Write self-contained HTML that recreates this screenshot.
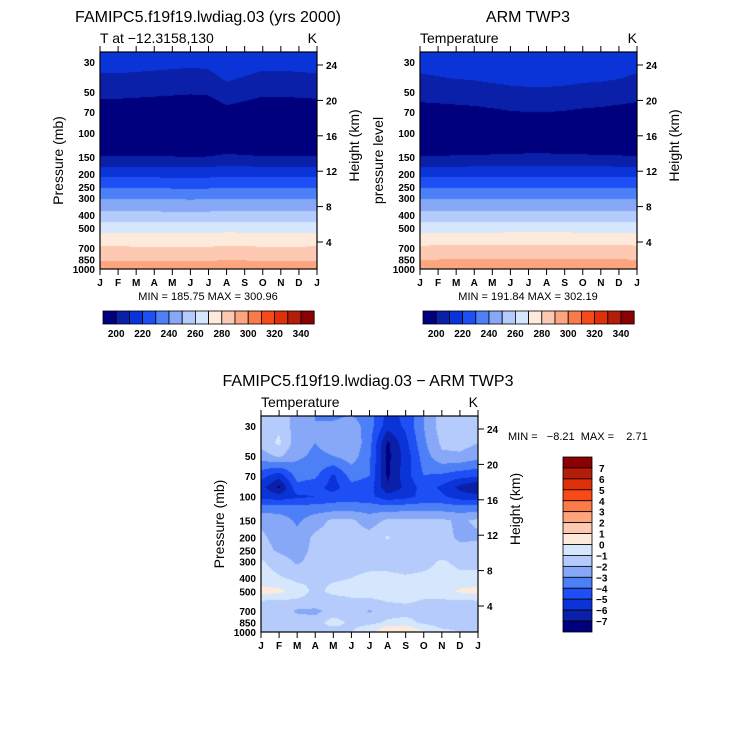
<!DOCTYPE html>
<html><head><meta charset="utf-8">
<style>
body{margin:0;background:#fff;width:733px;height:740px;overflow:hidden;position:relative;font-family:"Liberation Sans",sans-serif}
canvas{position:absolute}
svg{position:absolute;left:0;top:0}
text{font-family:"Liberation Sans",sans-serif;fill:#000}
.tk{font-size:10px;font-weight:bold}
</style></head>
<body>
<canvas id="c1" width="217" height="217" style="left:100px;top:52px"></canvas>
<canvas id="c2" width="217" height="217" style="left:420px;top:52px"></canvas>
<canvas id="c3" width="217" height="216" style="left:261px;top:416px"></canvas>
<svg id="s" width="733" height="740"></svg>
<script>
// ---- data ----
const months = ["J","F","M","A","M","J","J","A","S","O","N","D","J"];
const pTicks = [30,50,70,100,150,200,250,300,400,500,700,850,1000];
const hTicks = [24,20,16,12,8,4];
const levels = [25,30,40,50,70,85,100,120,150,200,250,300,400,500,600,700,850,925,1000];
const profModel = [216,214,208,203,194,190,189,192,201,217,229,239,253,266,275,281,289,293,295];
const offModel  = [0,0,-0.5,-1,-1.5,-2,-1.5,3,1,-1,-1,-0.5,0];
const profObs   = [215,213,210,205,197,192,190,193,201,217,229,239,253,266,275,282,290,294,296];
const offObs    = [-1,-0.5,0,0.5,1.5,2.5,3,3,2.5,1.5,1,0,-1];
const diffGrid = [
[-1.5,-1.2,-2.5,-3,-3.2,-3,-3.5,-5.3,-4.8,-3,-1.5,-1.5,-1.5],
[-1.5,-1.2,-2.5,-3,-2.8,-2.5,-3.5,-5.6,-4.8,-3,-1.5,-1.5,-1.8],
[-1.6,-0.8,-2.6,-3,-2.6,-2.2,-3.6,-7.2,-5.3,-3.2,-1.8,-1.6,-2],
[-2.5,-1.8,-2.8,-3.2,-3.0,-2.5,-3.8,-7.3,-5.6,-3.5,-2.2,-2.2,-2.6],
[-4.6,-5.6,-3.6,-3.8,-5.2,-3.6,-4,-7.2,-5.4,-4,-4.2,-4.6,-4.8],
[-5.6,-7.2,-4.3,-4.6,-5.4,-4.3,-4.5,-6.8,-5.8,-4.5,-5.2,-6.3,-7.1],
[-5.3,-5.6,-5.2,-5,-4.6,-4.5,-4.7,-5.6,-5.3,-4.7,-4.8,-5.5,-5.6],
[-3.5,-3.6,-3.6,-3.6,-3.5,-3.5,-3.5,-3.6,-3.5,-3.5,-3.5,-3.6,-3.6],
[-2.2,-2.4,-3.2,-2.4,-1.8,-1.8,-2.5,-1.8,-1.8,-1.8,-1.8,-2.2,-1.8],
[-1.8,-2.4,-2.6,-1.8,-1.6,-1.6,-1.6,-0.9,-1.6,-1.6,-1.6,-2.2,-2.2],
[-1.5,-2.2,-2.6,-1.6,-1.5,-1.5,-1.5,-1.5,-1.5,-1.5,-1.5,-1.6,-1.5],
[-0.9,-1.4,-2.2,-1.5,-1.3,-1.3,-1.3,-1.3,-1.4,-1.3,-0.9,-1.2,-1.2],
[-0.6,-0.9,-1.2,-1.1,-1.1,-1.0,-0.8,-0.8,-0.9,-0.8,-0.7,-0.8,-0.8],
[0.4,0.3,-0.6,-1.2,-0.8,-0.7,-0.7,-0.6,-0.6,-0.7,-0.4,0.2,0.4],
[-1.2,-1.3,-1.2,-1.3,-1.4,-1.2,-1.2,-1.0,-0.9,-1.1,-1.2,-1.3,-1.2],
[-1.6,-1.2,-2.2,-2.3,-1.6,-1.5,-2.1,-1.5,-1.4,-1.5,-1.8,-1.8,-1.6],
[-1.4,-1.2,-1.3,-1.5,-0.5,-1.3,-1.4,-0.8,-0.6,-1.2,-1.4,-1.4,-1.4],
[-1.3,-1.2,-1.2,-1.2,-1.1,-1.2,-0.6,0.3,0.4,-0.5,-1.1,-1.2,-1.3],
[-1.2,-1.2,-1.2,-1.1,-1.1,-1.0,-0.3,0.6,0.8,0.2,-0.7,-1.0,-1.1]];
const tempLabels = [200,220,240,260,280,300,320,340];
const diffLabels = [7,6,5,4,3,2,1,0,-1,-2,-3,-4,-5,-6,-7];
const palette = ["#00007f","#0a20a8","#0a34d8","#1e4ff5","#4d7ff6","#86a8f7","#b4cbfb","#d6e6fd","#feeadb","#fdc9b3","#fda57f","#fa7a48","#f84a18","#e0300a","#b31e0a","#8b0000"];

// ---- helpers ----
const SVGNS="http://www.w3.org/2000/svg", S=document.getElementById('s');
function el(tag,attrs,txt){const e=document.createElementNS(SVGNS,tag);for(const k in attrs)e.setAttribute(k,attrs[k]);if(txt!==undefined)e.textContent=txt;S.appendChild(e);return e;}
function hex(c){return [parseInt(c.substr(1,2),16),parseInt(c.substr(3,2),16),parseInt(c.substr(5,2),16)];}
const rgb=palette.map(hex);
const PTOP=25.3, PBOT=1000;
function yOfP(p,top,h){return top+h*(Math.log(p)-Math.log(PTOP))/(Math.log(PBOT)-Math.log(PTOP));}
function gridVal(grid,lv,m){
  const i0=Math.min(Math.floor(lv),levels.length-2), j0=Math.min(Math.floor(m),11);
  const fi=lv-i0, fj=m-j0;
  return grid[i0][j0]*(1-fi)*(1-fj)+grid[i0+1][j0]*fi*(1-fj)+grid[i0][j0+1]*(1-fi)*fj+grid[i0+1][j0+1]*fi*fj;
}
function levIdx(p){
  const l=Math.log(p);
  for(let i=0;i<levels.length-1;i++){const a=Math.log(levels[i]),b=Math.log(levels[i+1]);if(l<=b)return i+Math.max(0,(l-a)/(b-a));}
  return levels.length-1;
}
function drawField(id,grid,band){
  const c=document.getElementById(id),ctx=c.getContext('2d'),W=c.width,H=c.height;
  const img=ctx.createImageData(W,H);
  for(let y=0;y<H;y++){
    const p=Math.exp(Math.log(PTOP)+(y+0.5)/H*(Math.log(PBOT)-Math.log(PTOP)));
    const li=levIdx(p);
    for(let x=0;x<W;x++){
      const v=gridVal(grid,li,(x+0.5)/W*12);
      const col=rgb[band(v)],k=(y*W+x)*4;
      img.data[k]=col[0];img.data[k+1]=col[1];img.data[k+2]=col[2];img.data[k+3]=255;
    }
  }
  ctx.putImageData(img,0,0);
}
function buildGrid(prof,off){
  return levels.map((p,i)=>months.map((m,j)=>prof[i]+off[j]*(p<=100?1:(p<200?0.4:0.15))));
}
const tBand=v=>v<200?0:Math.min(15,Math.floor((v-200)/10)+1);
const dBand=v=>v<-7?0:Math.min(15,Math.floor(v+7)+1);
drawField('c1',buildGrid(profModel,offModel),tBand);
drawField('c2',buildGrid(profObs,offObs),tBand);
drawField('c3',diffGrid,dBand);

function axes(x,y,w,h,pre,leftTitle){
  el('rect',{x:x,y:y,width:w,height:h,fill:'none',stroke:'#000','stroke-width':1.2});
  months.forEach((m,i)=>{
    const tx=x+i*w/12;
    el('line',{x1:tx,y1:y,x2:tx,y2:y-6,stroke:'#000'});
    el('line',{x1:tx,y1:y+h,x2:tx,y2:y+h+6,stroke:'#000'});
    const lb=el('text',{x:tx,y:y+h+17,'text-anchor':'middle',class:'tk'},m);
    
    
  });
  pTicks.forEach(p=>{
    const ty=yOfP(p,y,h);
    const lb=el('text',{x:x-5,y:ty+4,'text-anchor':'end',class:'tk'},p);
    
    
  });
  hTicks.forEach(hk=>{
    const ty=y+13+(24-hk)*8.85;
    el('line',{x1:x+w,y1:ty,x2:x+w+6,y2:ty,stroke:'#000'});
    const lb=el('text',{x:x+w+9,y:ty+4,class:'tk'},hk);
    
    
  });
  const lt=el('text',{transform:`translate(${x-37},${y+h/2}) rotate(-90)`,'text-anchor':'middle','font-size':14},leftTitle);
  
  
  const rt=el('text',{transform:`translate(${x+w+42},${y+h/2-15}) rotate(-90)`,'text-anchor':'middle','font-size':14},'Height (km)');
  
  
}
axes(100,52,217,217,'model','Pressure (mb)');
axes(420,52,217,217,'obs','pressure level');
axes(261,416,217,216,'diff','Pressure (mb)');

function txt(x,y,s,size,anchor,name){const t=el('text',{x:x,y:y,'font-size':size,'text-anchor':anchor||'start'},s);return t;}
txt(208,22,'FAMIPC5.f19f19.lwdiag.03 (yrs 2000)',16,'middle','model-title');
txt(100,43,'T at \u221212.3158,130',14,'start','model-subtitle');
txt(317,43,'K',14,'end','model-units');
txt(208,300,'MIN = 185.75 MAX = 300.96',11,'middle','model-minmax');
txt(528,22,'ARM TWP3',16,'middle','obs-title');
txt(420,43,'Temperature',14,'start','obs-subtitle');
txt(637,43,'K',14,'end','obs-units');
txt(528,300,'MIN = 191.84 MAX = 302.19',11,'middle','obs-minmax');
txt(368,386,'FAMIPC5.f19f19.lwdiag.03 \u2212 ARM TWP3',16,'middle','diff-title');
txt(261,407,'Temperature',14,'start','diff-subtitle');
txt(478,407,'K',14,'end','diff-units');
txt(508,440,'MIN =   \u22128.21  MAX =    2.71',11,'start','diff-minmax').setAttribute('style','white-space:pre');

function hbar(x0,pre){
  const bw=13.2;
  palette.forEach((c,i)=>{
    const r=el('rect',{x:x0+i*bw,y:311,width:bw,height:13,fill:c,stroke:'#000','stroke-width':0.8});
    
    
  });
  tempLabels.forEach((v,i)=>{
    const t=el('text',{x:x0+(1+2*i)*bw,y:337,'text-anchor':'middle',class:'tk','font-size':11},v);
    
    
  });
}
hbar(103,'model');hbar(423,'obs');
const vbh=175/16;
palette.slice().reverse().forEach((c,i)=>{
  const r=el('rect',{x:563,y:457+i*vbh,width:29,height:vbh,fill:c,stroke:'#000','stroke-width':0.8});
  
  
});
diffLabels.forEach((v,i)=>{
  const t=el('text',{x:v<0?596:599,y:457+(i+1)*vbh+4,class:'tk','font-size':11},v<0?'\u2212'+(-v):v);
  
  
});
</script>
</body></html>
